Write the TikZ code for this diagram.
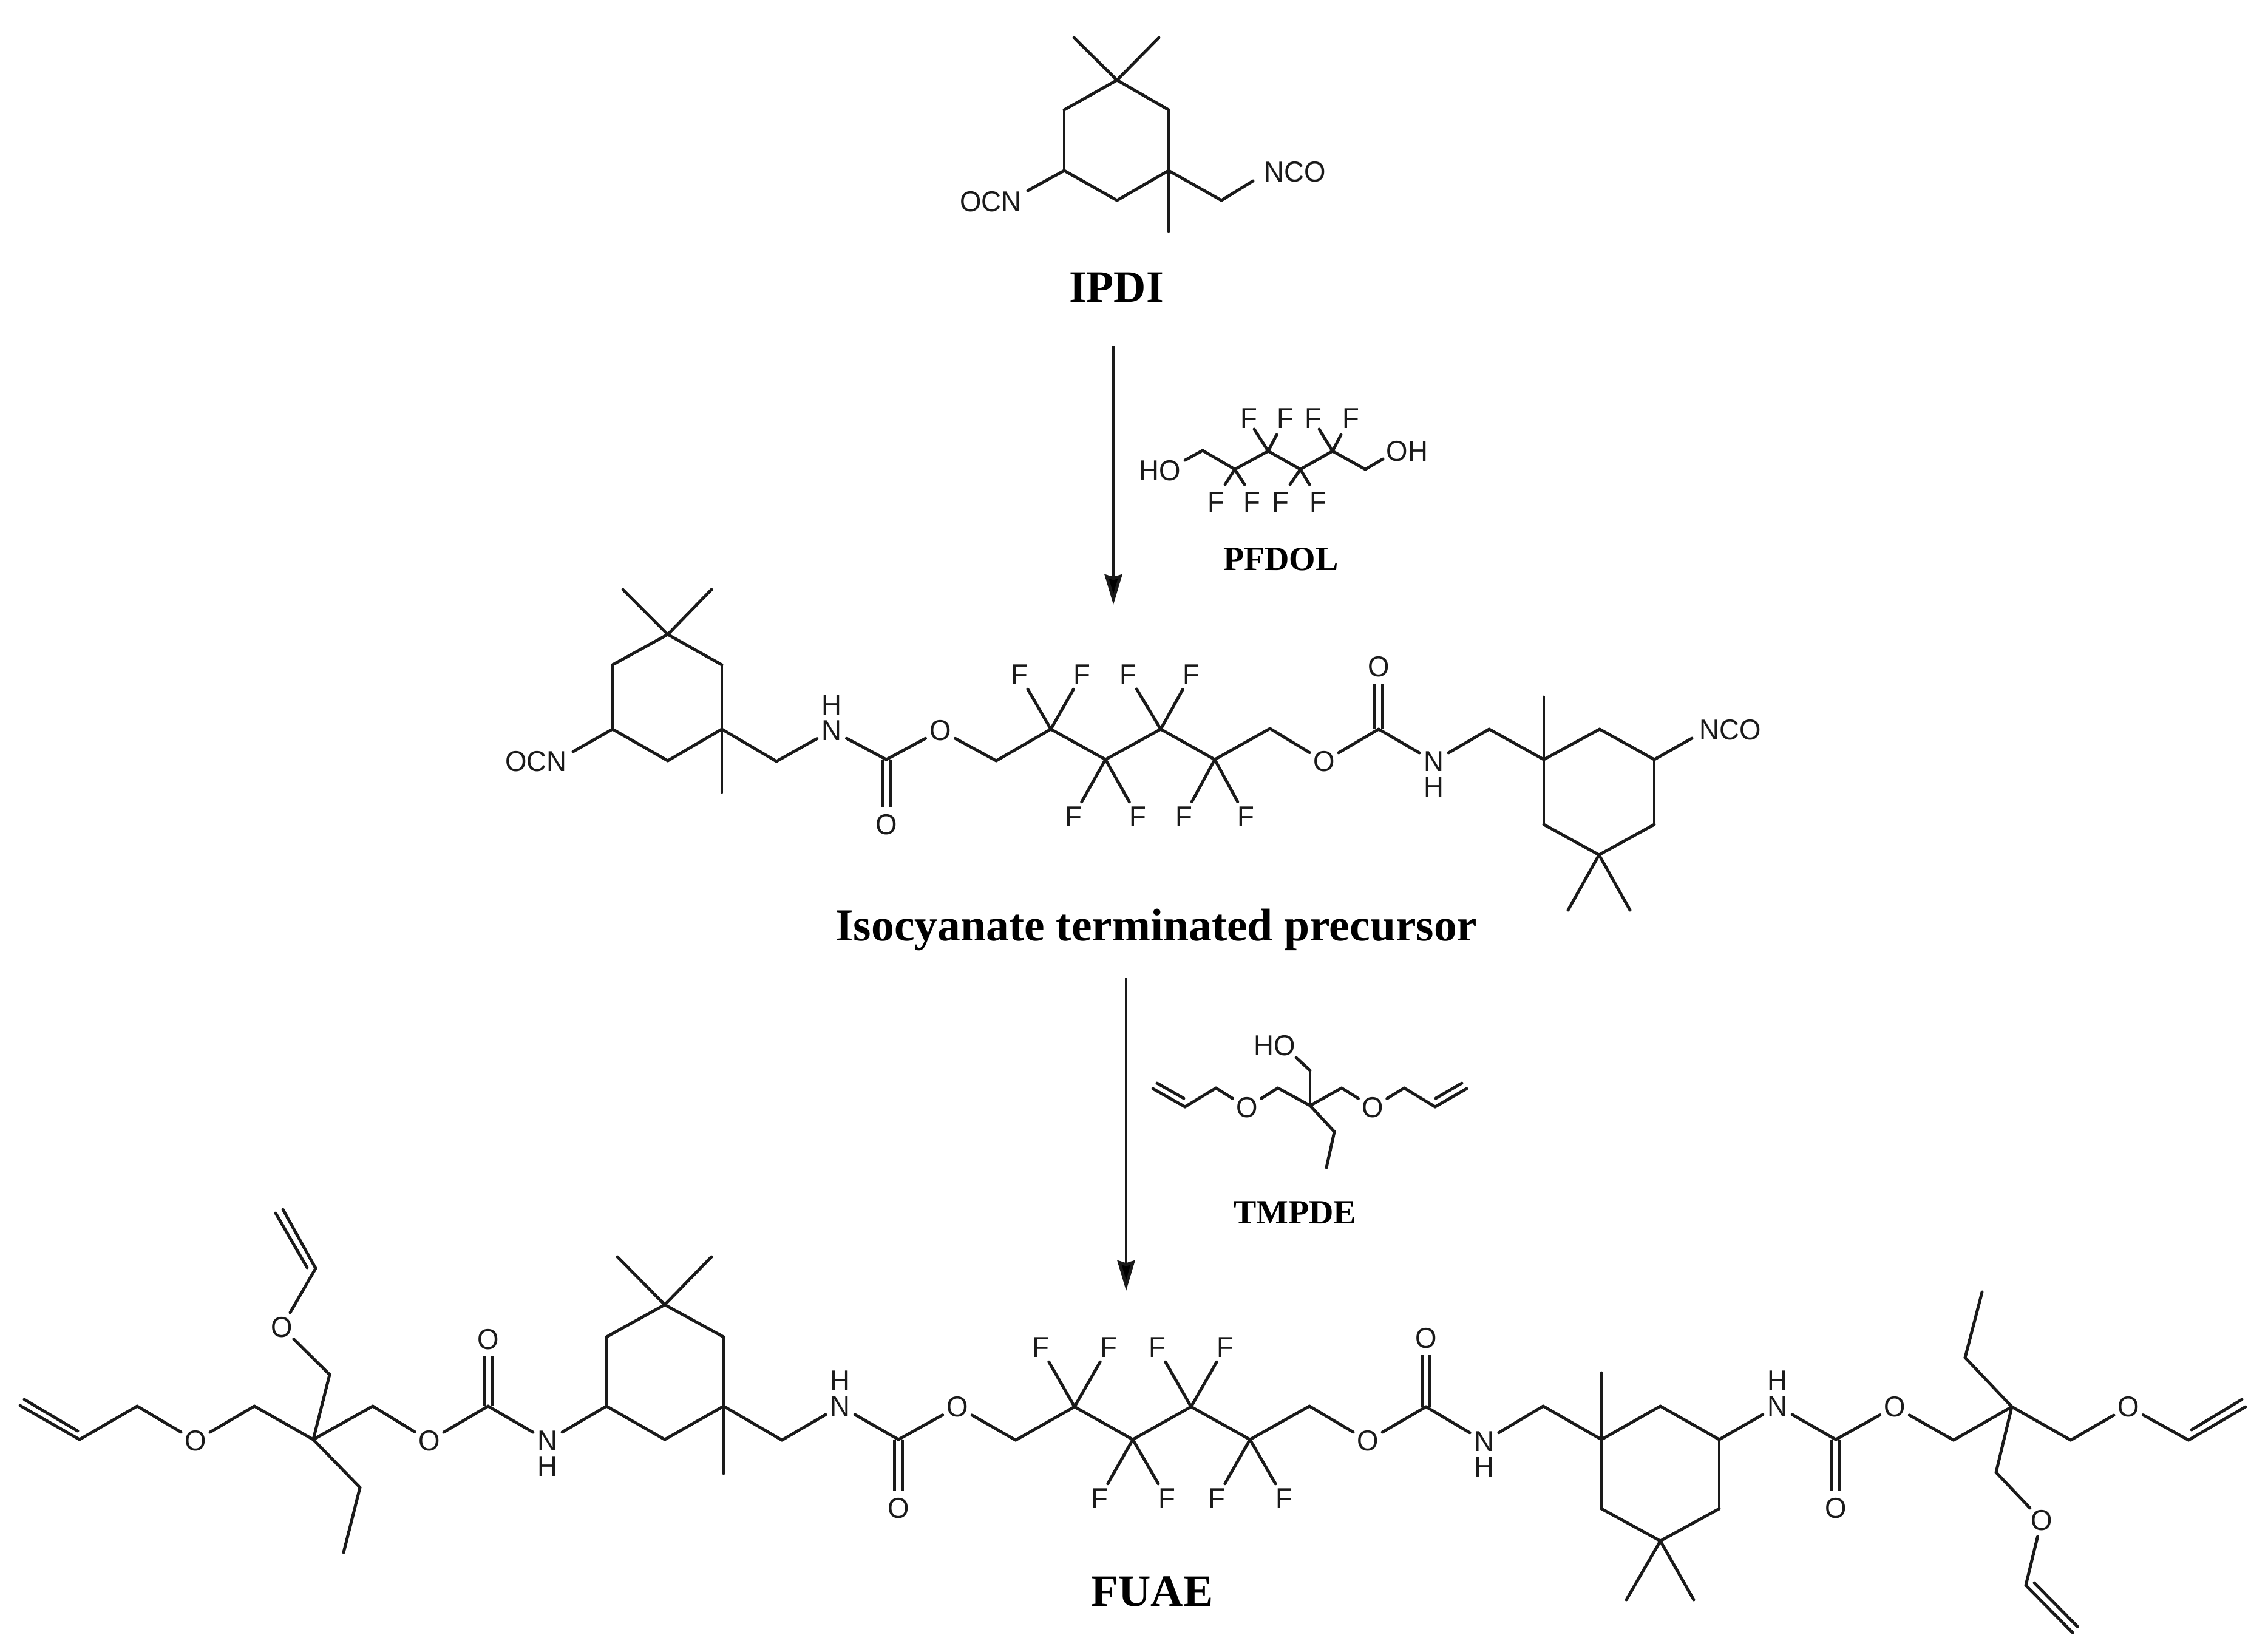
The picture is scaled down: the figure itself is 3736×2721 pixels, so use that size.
\documentclass[tikz,border=0pt]{standalone}
\usepackage{fontspec}
\usetikzlibrary{arrows.meta}
\setmainfont{Liberation Sans}
\newfontfamily\atomfont{Liberation Sans}[FakeStretch=0.96]
\newfontfamily\lblfont{Liberation Serif}[BoldFont={Liberation Serif Bold}]
\definecolor{ink}{HTML}{1A1A1A}
\newcommand{\Cc}[3]{\coordinate (#1) at (#2,#3);}
\newcommand{\At}[4]{\node[atom] (#1) at (#2,#3) {#4};}
\newcommand{\Tx}[4]{\node[atomtext] (#1) at (#2,#3) {#4};}
\newcommand{\Bonds}[1]{\foreach \u/\v in {#1} {\draw[bond] (\u) -- (\v);}}
\newcommand{\Dbl}[2]{\draw[dblbond] (#1) -- (#2);}
\begin{document}
\begin{tikzpicture}[x=0.01cm,y=-0.01cm,
  bond/.style={draw=ink,line width=1.4pt,line cap=round,line join=round},
  dblbond/.style={draw=ink,line width=1.4pt,double=white,double distance=2.5pt},
  atomtext/.style={inner sep=0pt,text=ink,font=\atomfont\fontsize{13.5}{15}\selectfont},
  atom/.style={atomtext,circle,minimum size=15.4pt},
  bigname/.style={anchor=base,inner sep=0pt,text=black,font=\lblfont\bfseries\fontsize{21}{24}\selectfont},
  smallname/.style={anchor=base,inner sep=0pt,text=black,font=\lblfont\bfseries\fontsize{15.9}{18}\selectfont},
  reaction/.style={draw=ink,line width=1.4pt,-{Stealth[length=14.2pt,width=8.2pt,inset=1.2pt,fill=black]}}]
\useasboundingbox (0,0) rectangle (3736,2721);
\fill[white] (0,0) rectangle (3736,2721);

% ---------- IPDI ----------
\Cc{aQ}{1840}{132}\Cc{aMa}{1769}{62}\Cc{aMb}{1909}{62}
\Cc{aUL}{1753}{181}\Cc{aUR}{1925}{181}\Cc{aLL}{1753}{281}\Cc{aLR}{1925}{281}\Cc{aB}{1840}{330}
\Cc{aMc}{1925}{381}\Cc{aCH}{2012}{330}\Cc{aEn}{2064}{298}\Cc{aEo}{1693}{314}
\Tx{aNCO}{2133}{283}{NCO}\Tx{aOCN}{1632}{332}{OCN}
\Bonds{aQ/aMa,aQ/aMb,aQ/aUL,aQ/aUR,aUL/aLL,aUR/aLR,aLL/aB,aLR/aB,aLR/aMc,aLR/aCH,aCH/aEn,aLL/aEo}
\node[bigname] (nIPDI) at (1839,497) {IPDI};

% ---------- arrow 1 ----------
\Cc{rOneS}{1834}{570}\Cc{rOneE}{1834}{996}
\draw[reaction] (rOneS) -- (rOneE);

% ---------- PFDOL ----------
\Tx{pHO}{1911}{775}{HO}\Tx{pOH}{2318}{743}{OH}
\Cc{pEa}{1952}{758}\Cc{pEb}{2278}{756}
\Cc{pA}{1981}{742}\Cc{pB}{2034}{773}\Cc{pC}{2089}{743}\Cc{pD}{2142}{773}\Cc{pE}{2195}{743}\Cc{pF}{2249}{773}
\Tx{pFa}{2057}{689}{F}\Tx{pFb}{2117}{689}{F}\Tx{pFc}{2163}{689}{F}\Tx{pFd}{2225}{689}{F}
\Tx{pFe}{2003}{827}{F}\Tx{pFf}{2062}{827}{F}\Tx{pFg}{2109}{827}{F}\Tx{pFh}{2171}{827}{F}
\Cc{pGa}{2066}{707}\Cc{pGb}{2103}{716}\Cc{pGc}{2173}{707}\Cc{pGd}{2209}{716}
\Cc{pGe}{2018}{798}\Cc{pGf}{2050}{798}\Cc{pGg}{2125}{798}\Cc{pGh}{2157}{798}
\Bonds{pEa/pA,pA/pB,pB/pC,pC/pD,pD/pE,pE/pF,pF/pEb,pC/pGa,pC/pGb,pE/pGc,pE/pGd,pB/pGe,pB/pGf,pD/pGg,pD/pGh}
\node[smallname] (nPFDOL) at (2110,939) {PFDOL};

% ---------- isocyanate terminated precursor ----------
\Cc{bQ}{1100}{1045}\Cc{bMa}{1026}{971}\Cc{bMb}{1172}{971}
\Cc{bUL}{1009}{1095}\Cc{bUR}{1189}{1095}\Cc{bLL}{1009}{1201}\Cc{bLR}{1189}{1201}\Cc{bB}{1100}{1253}
\Cc{bEo}{944}{1238}\Tx{bOCN}{883}{1254}{OCN}\Cc{bMc}{1189}{1305}\Cc{bCHa}{1279}{1254}
\At{bNa}{1370}{1203}{N}\At{bHa}{1370}{1161}{H}
\Cc{bCa}{1460}{1251}\At{bOa}{1460}{1358}{O}\At{bOb}{1549}{1203}{O}
\Cc{bCHb}{1641}{1253}\Cc{bCFa}{1731}{1201}\Cc{bCFb}{1821}{1251}\Cc{bCFc}{1912}{1201}\Cc{bCFd}{2001}{1251}\Cc{bCHc}{2092}{1200}
\At{bFa}{1679}{1111}{F}\At{bFb}{1782}{1111}{F}\At{bFc}{1858}{1111}{F}\At{bFd}{1962}{1111}{F}
\At{bFe}{1768}{1345}{F}\At{bFf}{1874}{1345}{F}\At{bFg}{1950}{1345}{F}\At{bFh}{2052}{1345}{F}
\At{bOc}{2181}{1254}{O}\Cc{bCb}{2271}{1201}\At{bOd}{2271}{1098}{O}
\At{bNb}{2362}{1254}{N}\At{bHb}{2362}{1296}{H}
\Cc{bCHd}{2453}{1201}\Cc{bRa}{2543}{1251}\Cc{bMd}{2543}{1148}\Cc{bRb}{2635}{1201}\Cc{bRc}{2725}{1251}
\Cc{bRd}{2725}{1358}\Cc{bRe}{2634}{1408}\Cc{bRf}{2543}{1358}\Cc{bMe}{2583}{1499}\Cc{bMf}{2685}{1499}
\Cc{bEn}{2787}{1216}\Tx{bNCO}{2850}{1202}{NCO}
\Dbl{bCa}{bOa}\Dbl{bCb}{bOd}
\Bonds{bQ/bMa,bQ/bMb,bQ/bUL,bQ/bUR,bUL/bLL,bUR/bLR,bLL/bB,bLR/bB,bLL/bEo,bLR/bMc,bLR/bCHa,bCHa/bNa,bNa/bCa,bCa/bOb,bOb/bCHb,bCHb/bCFa,bCFa/bCFb,bCFb/bCFc,bCFc/bCFd,bCFd/bCHc,bCHc/bOc,bOc/bCb,bCb/bNb,bNb/bCHd,bCHd/bRa,bRa/bMd,bRa/bRb,bRb/bRc,bRc/bRd,bRd/bRe,bRe/bRf,bRf/bRa,bRe/bMe,bRe/bMf,bRc/bEn,bCFa/bFa,bCFa/bFb,bCFb/bFe,bCFb/bFf,bCFc/bFc,bCFc/bFd,bCFd/bFg,bCFd/bFh}
\node[bigname,font=\lblfont\bfseries\fontsize{21.5}{24}\selectfont] (nPrec) at (1905,1549) {Isocyanate terminated precursor};

% ---------- arrow 2 ----------
\Cc{rTwoS}{1855}{1611}\Cc{rTwoE}{1855}{2126}
\draw[reaction] (rTwoS) -- (rTwoE);

% ---------- TMPDE ----------
\Tx{tHO}{2100}{1722}{HO}\Cc{tEh}{2135}{1742}\Cc{tCH}{2158}{1763}\Cc{tQ}{2158}{1821}
\Cc{tLa}{2105}{1792}\At{tOa}{2054}{1824}{O}\Cc{tLb}{2003}{1792}\Cc{tLc}{1952}{1823}\Cc{tLd}{1899}{1793}
\Cc{tLe}{1906}{1784}\Cc{tLf}{1950}{1809}
\Cc{tRa}{2210}{1792}\At{tOb}{2261}{1824}{O}\Cc{tRb}{2313}{1792}\Cc{tRc}{2364}{1823}\Cc{tRd}{2416}{1793}
\Cc{tRe}{2408}{1784}\Cc{tRf}{2365}{1809}
\Cc{tEa}{2198}{1864}\Cc{tEb}{2185}{1923}
\Bonds{tEh/tCH,tCH/tQ,tQ/tLa,tLa/tOa,tOa/tLb,tLb/tLc,tLc/tLd,tLe/tLf,tQ/tRa,tRa/tOb,tOb/tRb,tRb/tRc,tRc/tRd,tRe/tRf,tQ/tEa,tEa/tEb}
\node[smallname] (nTMPDE) at (2133,2015) {TMPDE};

% ---------- FUAE ----------
\Cc{fVa}{33}{2315}\Cc{fVb}{131}{2371}\Cc{fVc}{40}{2305}\Cc{fVd}{128}{2357}\Cc{fVe}{226}{2316}
\At{fOa}{322}{2373}{O}\Cc{fVf}{419}{2316}\Cc{fQ}{516}{2371}
\Cc{fUa}{543}{2264}\At{fOb}{464}{2186}{O}\Cc{fUb}{520}{2089}\Cc{fUc}{466}{1992}\Cc{fUd}{454}{1998}\Cc{fUe}{506}{2088}
\Cc{fEa}{593}{2450}\Cc{fEb}{566}{2557}
\Cc{fGa}{614}{2316}\At{fOc}{707}{2373}{O}\Cc{fCa}{804}{2316}\At{fOd}{804}{2206}{O}
\At{fNa}{902}{2373}{N}\At{fHa}{902}{2415}{H}
\Cc{fRa}{999}{2316}\Cc{fRb}{999}{2202}\Cc{fRc}{1095}{2149}\Cc{fRd}{1192}{2202}\Cc{fRe}{1192}{2316}\Cc{fRf}{1095}{2371}
\Cc{fMa}{1017}{2070}\Cc{fMb}{1172}{2070}\Cc{fMc}{1192}{2427}\Cc{fCHa}{1288}{2372}
\At{fNb}{1384}{2316}{N}\At{fHb}{1384}{2274}{H}
\Cc{fCb}{1480}{2371}\At{fOe}{1480}{2484}{O}\At{fOf}{1577}{2317}{O}
\Cc{fCHb}{1673}{2372}\Cc{fCFa}{1770}{2317}\Cc{fCFb}{1866}{2371}\Cc{fCFc}{1962}{2317}\Cc{fCFd}{2059}{2371}\Cc{fCHc}{2157}{2316}
\At{fFa}{1714}{2219}{F}\At{fFb}{1826}{2219}{F}\At{fFc}{1906}{2219}{F}\At{fFd}{2018}{2219}{F}
\At{fFe}{1811}{2468}{F}\At{fFf}{1922}{2468}{F}\At{fFg}{2004}{2468}{F}\At{fFh}{2115}{2468}{F}
\At{fOg}{2253}{2373}{O}\Cc{fCc}{2349}{2317}\At{fOh}{2349}{2204}{O}
\At{fNc}{2445}{2374}{N}\At{fHc}{2445}{2416}{H}
\Cc{fCHd}{2542}{2316}\Cc{fSa}{2638}{2371}\Cc{fMd}{2638}{2261}\Cc{fSb}{2735}{2316}\Cc{fSc}{2832}{2371}
\Cc{fSd}{2832}{2485}\Cc{fSe}{2735}{2538}\Cc{fSf}{2638}{2485}\Cc{fMe}{2679}{2635}\Cc{fMf}{2790}{2635}
\At{fNd}{2928}{2316}{N}\At{fHd}{2928}{2274}{H}
\Cc{fCd}{3024}{2371}\At{fOi}{3024}{2484}{O}\At{fOj}{3121}{2317}{O}
\Cc{fCHe}{3218}{2372}\Cc{fT}{3314}{2317}\Cc{fEc}{3237}{2236}\Cc{fEd}{3265}{2128}
\Cc{fDa}{3288}{2425}\At{fOk}{3363}{2504}{O}\Cc{fDb}{3337}{2611}\Cc{fDc}{3414}{2689}\Cc{fDd}{3351}{2607}\Cc{fDe}{3422}{2679}
\Cc{fHa}{3411}{2372}\At{fOl}{3506}{2317}{O}\Cc{fHb}{3605}{2372}\Cc{fHc}{3699}{2317}\Cc{fHd}{3610}{2355}\Cc{fHe}{3693}{2305}
\Dbl{fCa}{fOd}\Dbl{fCb}{fOe}\Dbl{fCc}{fOh}\Dbl{fCd}{fOi}
\Bonds{fVa/fVb,fVc/fVd,fVb/fVe,fVe/fOa,fOa/fVf,fVf/fQ,fQ/fUa,fUa/fOb,fOb/fUb,fUb/fUc,fUd/fUe,fQ/fEa,fEa/fEb,fQ/fGa,fGa/fOc,fOc/fCa,fCa/fNa,fNa/fRa,fRa/fRb,fRb/fRc,fRc/fRd,fRd/fRe,fRe/fRf,fRf/fRa,fRc/fMa,fRc/fMb,fRe/fMc,fRe/fCHa,fCHa/fNb,fNb/fCb,fCb/fOf,fOf/fCHb,fCHb/fCFa,fCFa/fCFb,fCFb/fCFc,fCFc/fCFd,fCFd/fCHc,fCHc/fOg,fOg/fCc,fCc/fNc,fNc/fCHd,fCHd/fSa,fSa/fMd,fSa/fSb,fSb/fSc,fSc/fSd,fSd/fSe,fSe/fSf,fSf/fSa,fSe/fMe,fSe/fMf,fSc/fNd,fNd/fCd,fCd/fOj,fOj/fCHe,fCHe/fT,fT/fEc,fEc/fEd,fT/fDa,fDa/fOk,fOk/fDb,fDb/fDc,fDd/fDe,fT/fHa,fHa/fOl,fOl/fHb,fHb/fHc,fHd/fHe,fCFa/fFa,fCFa/fFb,fCFb/fFe,fCFb/fFf,fCFc/fFc,fCFc/fFd,fCFd/fFg,fCFd/fFh}
\node[bigname] (nFUAE) at (1898,2645) {FUAE};
\end{tikzpicture}
\end{document}
